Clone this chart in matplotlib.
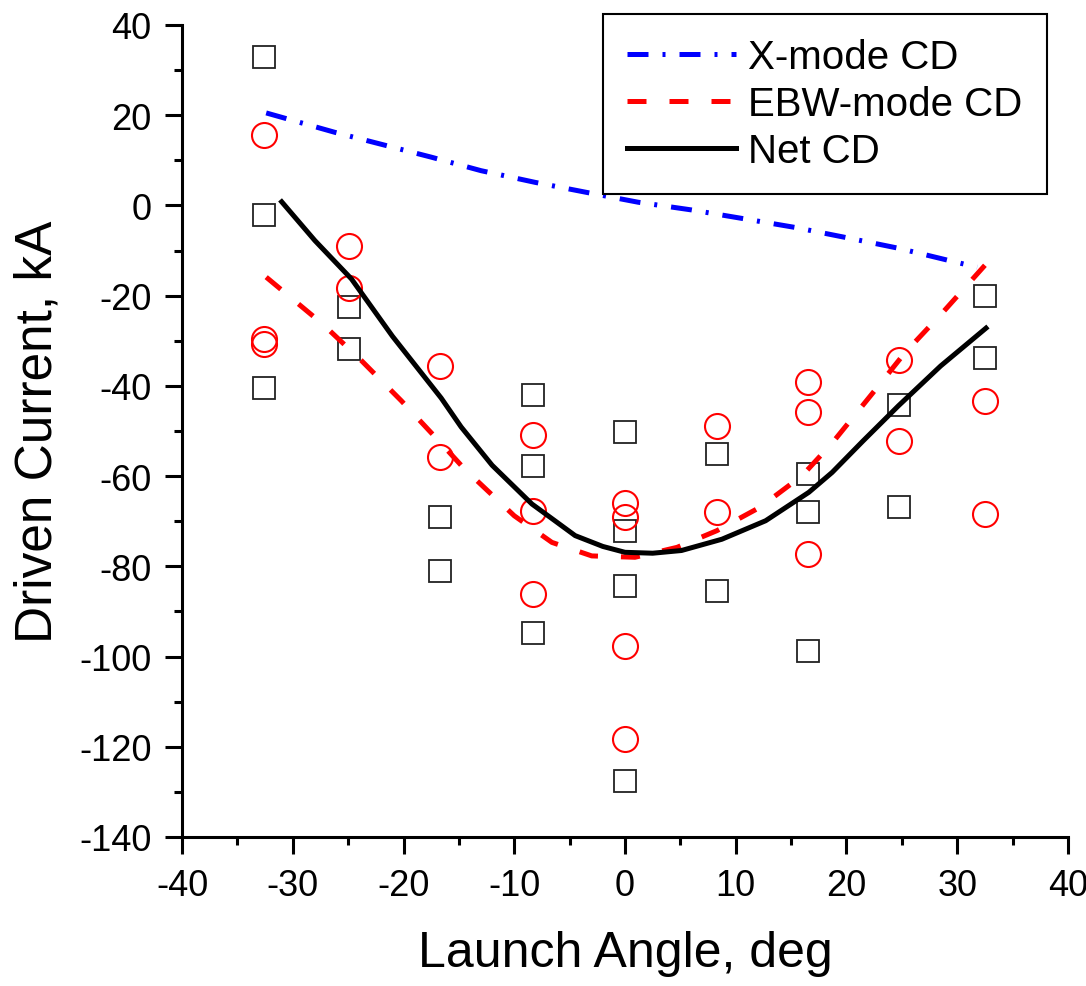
import matplotlib
matplotlib.use("Agg")
import matplotlib.pyplot as plt

plt.rcParams['font.family'] = ['Liberation Sans', 'DejaVu Sans']
plt.rcParams['axes.unicode_minus'] = False

# measured points (squares, black)
sq_x = [-32.6, -32.6, -32.6, -24.9, -24.9, -16.7, -16.7,
        -8.3, -8.3, -8.3, 0, 0, 0, 0, 8.3, 8.3,
        16.5, 16.5, 16.5, 24.7, 24.7, 32.5, 32.5]
sq_y = [32.8, -2.1, -40.5, -22.6, -31.8, -69.1, -81.1,
        -42.0, -57.7, -94.8, -50.2, -72.1, -84.4, -127.7, -55.1, -85.4,
        -59.6, -68.0, -98.7, -44.2, -66.8, -20.0, -33.8]

# measured points (circles, red)
ci_x = [-32.6, -32.6, -32.6, -24.9, -24.9, -16.7, -16.7,
        -8.3, -8.3, -8.3, 0, 0, 0, 0, 8.3, 8.3,
        16.5, 16.5, 16.5, 24.7, 24.7, 32.5, 32.5]
ci_y = [15.5, -29.6, -30.7, -8.9, -18.3, -35.7, -55.8,
        -50.9, -67.7, -86.1, -66.0, -69.1, -97.6, -118.3, -48.8, -68.0,
        -39.2, -45.7, -77.3, -34.3, -52.2, -43.4, -68.4]

# X-mode CD curve
xm_x = [-32.4, -26.2, -17.5, -13.0, -8.1, -3.5, 1.2, 6.0, 10.6, 15.4, 19.9, 24.7, 29.4, 31.8]
xm_y = [20.5, 16.2, 10.7, 7.7, 5.1, 2.9, 0.7, -1.0, -2.9, -4.9, -7.1, -9.5, -12.3, -13.7]

# EBW-mode CD curve
ebw_x = [-32.4, -27.3, -23.8, -20.2, -16.7, -14.5, -10.0, -6.6, -3.0, 0.9,
         4.7, 8.3, 12.2, 16.0, 18.7, 22.3, 25.3, 28.7, 32.6]
ebw_y = [-15.9, -26.3, -34.4, -43.3, -52.5, -58.4, -68.8, -74.7, -77.7, -78.0,
         -75.8, -72.1, -66.9, -59.9, -52.7, -41.8, -32.6, -23.7, -13.0]

# Net CD curve
net_x = [-31.0, -28.0, -24.7, -21.0, -16.6, -14.8, -12.0, -8.4, -6.5, -4.5, -2.0, 0.0, 2.5,
         5.1, 8.75, 12.7, 16.6, 18.7, 21.5, 24.7, 28.5, 32.6]
net_y = [0.8, -7.8, -16.3, -29.0, -42.7, -49.1, -57.6, -66.2, -69.6, -73.2, -75.6, -76.9, -77.1,
         -76.5, -74.0, -69.9, -63.6, -59.2, -52.2, -44.4, -35.6, -27.2]

fig = plt.figure(figsize=(10.86, 9.87), dpi=100)
ax = fig.add_axes([0.1676, 0.151, 0.8158, 0.8227])

ax.plot(sq_x, sq_y, ls='none', marker='s', ms=15.5, mfc='none', mec='#222222', mew=1.3)
ax.plot(ci_x, ci_y, ls='none', marker='o', ms=18, mfc='none', mec='red', mew=1.5)

l1, = ax.plot(xm_x, xm_y, color='blue', lw=3.6, label='X-mode CD')
l1.set_dashes([4.2, 2.8, 0.6, 2.8])
l2, = ax.plot(ebw_x, ebw_y, color='red', lw=3.6, label='EBW-mode CD')
l2.set_dashes([3.8, 4.6])
l3, = ax.plot(net_x, net_y, color='black', lw=3.6, label='Net CD')

ax.set_xlim(-40, 40)
ax.set_ylim(-140, 40)
ax.set_xticks(range(-40, 41, 10))
ax.set_xticks(range(-35, 40, 10), minor=True)
ax.set_yticks(range(-140, 41, 20))
ax.set_yticks(range(-130, 40, 20), minor=True)

for s in ['top', 'right']:
    ax.spines[s].set_visible(False)
for s in ['left', 'bottom']:
    ax.spines[s].set_linewidth(2.2)

ax.tick_params(which='major', direction='out', length=12, width=2.2, labelsize=26, pad=10)
ax.tick_params(which='minor', direction='out', length=6, width=2.2)

ax.set_xlabel('Launch Angle, deg', fontsize=36, labelpad=20)
ax.set_ylabel('Driven Current, kA', fontsize=37, labelpad=12)

leg = ax.legend(handles=[l1, l2, l3], loc='upper right', bbox_to_anchor=(0.976, 1.0135),
                borderaxespad=0, fontsize=29, frameon=True, fancybox=False,
                edgecolor='black', framealpha=1, handlelength=2.7,
                handletextpad=0.3, labelspacing=0.22, borderpad=0.6)
leg.get_frame().set_linewidth(1.5)

fig.savefig('out.png', dpi=100)
